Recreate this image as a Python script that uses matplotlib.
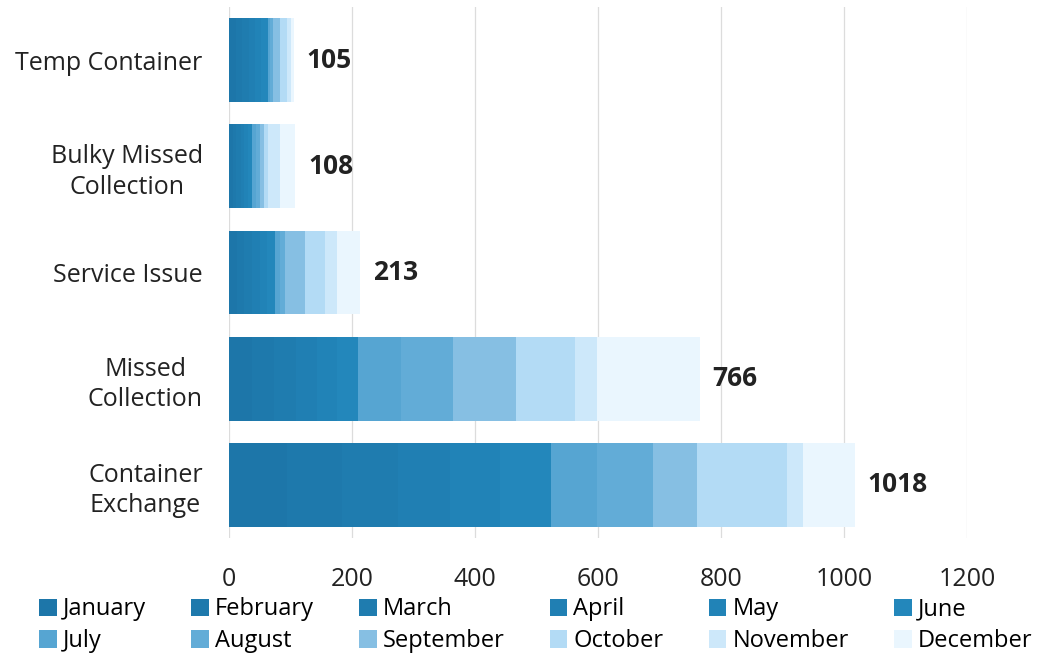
import numpy as np
import matplotlib.pyplot as plt

plt.rcParams['font.family'] = ['Open Sans', 'DejaVu Sans']

# categories, bottom to top
categories = ['Container\nExchange', 'Missed\nCollection', 'Service Issue',
              'Bulky Missed\nCollection', 'Temp Container']
months = ['January', 'February', 'March', 'April', 'May', 'June',
          'July', 'August', 'September', 'October', 'November', 'December']

# monthly counts per category (same order as categories)
jan = [95, 38, 13, 6, 11]
feb = [88, 35, 12, 6, 10]
mar = [92, 36, 13, 7, 11]
apr = [85, 34, 12, 6, 10]
may = [80, 33, 12, 6, 10]
jun = [83, 34, 13, 6, 11]
jul = [75, 70, 8, 6, 4]
aug = [91, 84, 8, 7, 4]
sep = [72, 103, 33, 6, 12]
oct_ = [146, 96, 32, 7, 12]
nov = [26, 35, 20, 20, 5]
dec = [85, 168, 37, 25, 5]
totals = [1018, 766, 213, 108, 105]

series = [jan, feb, mar, apr, may, jun, jul, aug, sep, oct_, nov, dec]
colors = ['#1d76a9', '#1e79ac', '#1f7caf', '#207fb3', '#2183b7', '#2387bb',
          '#56a5d2', '#62acd7', '#86bfe3', '#b3dbf5', '#cde8fa', '#eaf6fe']

fig = plt.figure(figsize=(10.46, 6.55), dpi=100)
ax = fig.add_axes([0.219, 0.179, 0.7055, 0.81])

y = np.arange(len(categories))
left = np.zeros(len(categories))
handles = []
for name, vals, c in zip(months, series, colors):
    b = ax.barh(y, vals, left=left, height=0.79, color=c, label=name, zorder=2)
    handles.append(b)
    left += np.array(vals)

for yi, t in zip(y, totals):
    ax.annotate(str(t), (t, yi), xytext=(9, 0), textcoords='offset points',
                va='center', ha='left', fontsize=19, fontweight='bold',
                color='#222222')

ax.set_xlim(0, 1200)
ax.set_ylim(-0.5, len(categories) - 0.5)
ax.set_xticks(np.arange(0, 1201, 200))
ax.set_yticks(y)
ax.set_yticklabels(categories, fontsize=18, color='#222222',
                   multialignment='center', linespacing=1.3)
ax.tick_params(axis='x', labelsize=18, labelcolor='#222222', length=0, pad=21)
ax.tick_params(axis='y', length=0, pad=19)
ax.grid(axis='x', color='#dcdcdc', linewidth=0.9, zorder=0)
for s in ax.spines.values():
    s.set_visible(False)

# legend filled row-wise: reorder for matplotlib's column-first fill
order = [0, 6, 1, 7, 2, 8, 3, 9, 4, 10, 5, 11]
fig.legend([handles[i] for i in order], [months[i] for i in order],
           ncol=6, loc='lower center', bbox_to_anchor=(0.512, -0.019),
           frameon=False, fontsize=17, handlelength=0.75, handleheight=0.75,
           handletextpad=0.25, columnspacing=1.92, labelspacing=0.33,
           borderaxespad=0.2)

fig.savefig('out.png', dpi=100)
